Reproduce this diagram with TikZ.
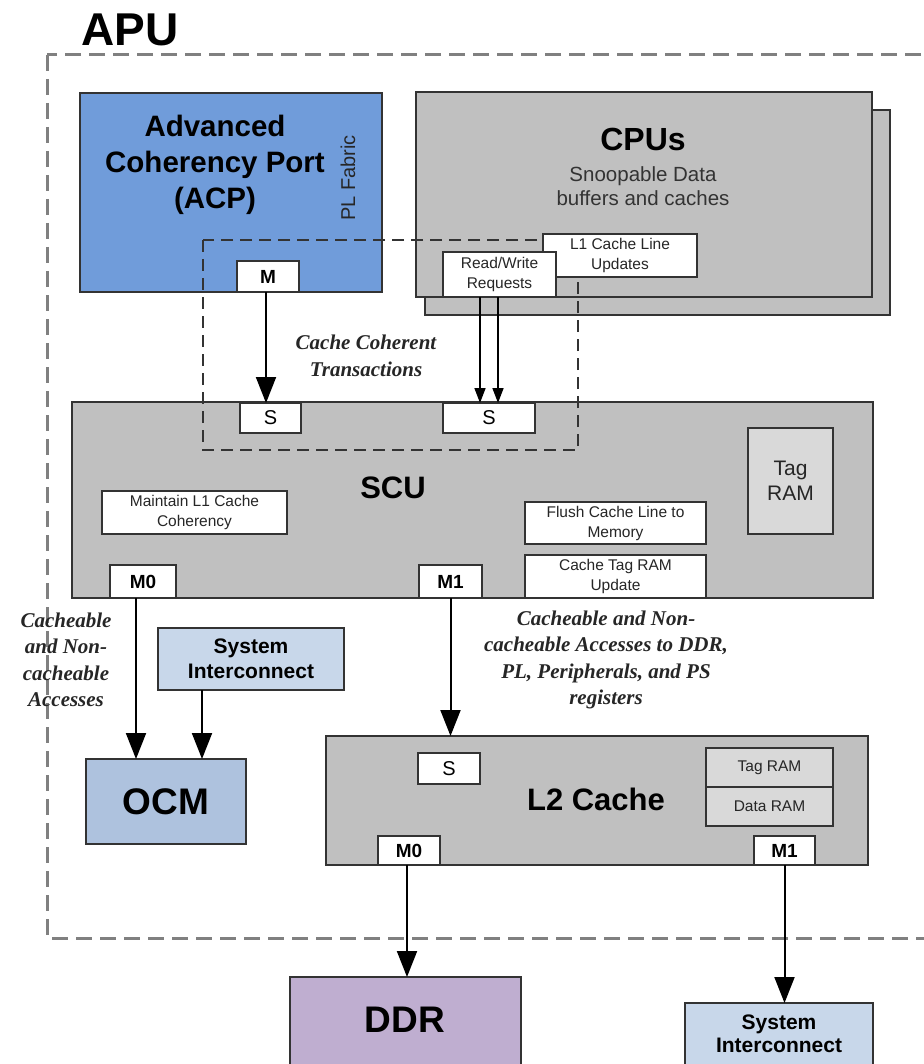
\documentclass[tikz,border=0pt]{standalone}
\usepackage{fontspec}
\setmainfont{Liberation Sans}
\newfontfamily\tnr{Liberation Serif}
\usetikzlibrary{arrows.meta}
\definecolor{acpblue}{HTML}{709CDA}
\definecolor{boxgray}{HTML}{C0C0C0}
\definecolor{ramgray}{HTML}{D9D9D9}
\definecolor{sysblue}{HTML}{C8D7EA}
\definecolor{ocmblue}{HTML}{AEC2DE}
\definecolor{ddrpurple}{HTML}{BFAED0}
\definecolor{bordc}{HTML}{333333}
\definecolor{apudash}{HTML}{808080}
\newcommand\myfs[2]{\fontsize{#1}{#2}\selectfont}
\tikzset{
  box/.style={draw=bordc, line width=1.5pt, inner sep=0pt, outer sep=0pt},
  port/.style={box, fill=white, text=black},
  bigarr/.style={line width=2pt, draw=black, -{Triangle[width=20pt,length=26pt]}},
  smallarr/.style={line width=1.6pt, draw=black, -{Triangle[width=11pt,length=15pt]}},
  lbl/.style={align=center, inner sep=0pt, text=black},
  note/.style={align=center, inner sep=0pt, text=black!85, font=\tnr\bfseries\itshape\myfs{21}{26.5}},
  small/.style={font=\myfs{15.5}{20}, text=black!85},
}
\begin{document}
\begin{tikzpicture}[x=1pt,y=-1pt]
\useasboundingbox (0,0) rectangle (923,1064);
\fill[white] (0,0) rectangle (923,1064);

% APU
\node[lbl, font=\bfseries\myfs{46}{50}] (apu) at (130,30) {APU};
\draw[apudash, line width=3pt, dash pattern=on 16pt off 8pt] (47,55) rectangle (945,938);

% ACP
\node[box, fill=acpblue, minimum width=302pt, minimum height=199pt] (acp) at (231,192.5) {};
\node[lbl, font=\bfseries\myfs{29.5}{36}] (acptxt) at (215,165) {Advanced\\Coherency Port\\(ACP)};
\node[lbl, rotate=90, font=\myfs{20}{24}, text=black!85] (plf) at (348,178) {PL Fabric};
\node[port, minimum width=62pt, minimum height=31pt, font=\bfseries\myfs{19}{22}] (mp) at (268,276.5) {M};

% CPUs
\node[box, fill=boxgray, minimum width=465pt, minimum height=205pt] (cpuback) at (657.5,212.5) {};
\node[box, fill=boxgray, minimum width=456pt, minimum height=205pt] (cpu) at (644,194.5) {};
\node[lbl, font=\bfseries\myfs{32}{36}] (cputxt) at (643,139) {CPUs};
\node[lbl, font=\myfs{20.5}{24}, text=black!80] (snoop) at (643,186) {Snoopable Data\\buffers and caches};

% SCU
\node[box, fill=boxgray, minimum width=801pt, minimum height=196pt] (scu) at (472.5,500) {};
\node[lbl, font=\bfseries\myfs{31}{36}] (scutxt) at (393,488) {SCU};
\node[port, minimum width=61pt, minimum height=30pt, font=\myfs{20}{24}] (s1) at (270.5,418) {S};
\node[port, minimum width=92pt, minimum height=30pt, font=\myfs{20}{24}] (s2) at (489,418) {S};
\node[port, small, align=center, minimum width=185pt, minimum height=43pt] (maint) at (194.5,512.5) {Maintain L1 Cache\\Coherency};
\node[port, minimum width=66pt, minimum height=33pt, font=\bfseries\myfs{19}{22}] (m0) at (143,581.5) {M0};
\node[port, minimum width=63pt, minimum height=33pt, font=\bfseries\myfs{19}{22}] (m1) at (450.5,581.5) {M1};
\node[box, fill=ramgray, align=center, minimum width=85pt, minimum height=106pt, font=\myfs{21}{25}, text=black!85] (tagram) at (790.5,481) {Tag\\RAM};
\node[port, small, align=center, minimum width=181pt, minimum height=42pt] (flush) at (615.5,523) {Flush Cache Line to\\Memory};
\node[port, small, align=center, minimum width=181pt, minimum height=43pt] (ctag) at (615.5,576.5) {Cache Tag RAM\\Update};

% coherent dashed region
\draw[bordc, line width=1.8pt, dash pattern=on 12pt off 7pt] (203,240) rectangle (578,450);

% CPU sub boxes (on top of dashed region)
\node[port, small, align=center, minimum width=154pt, minimum height=43pt] (l1) at (620,255.5) {L1 Cache Line\\Updates};
\node[port, small, align=center, minimum width=113pt, minimum height=45pt] (rw) at (499.5,274.5) {Read/Write\\Requests};

\node[note] (cct) at (366,356) {Cache Coherent\\Transactions};

% lower left
\node[box, fill=sysblue, align=center, minimum width=186pt, minimum height=62pt, font=\bfseries\myfs{21}{25}] (si1) at (251,659) {System\\Interconnect};
\node[box, fill=ocmblue, minimum width=160pt, minimum height=85pt, font=\bfseries\myfs{37}{40}] (ocm) at (166,801.5) {OCM};
\node[note] (cna) at (66,660) {Cacheable\\and Non-\\cacheable\\Accesses};
\node[note] (cnb) at (606,660) {Cacheable and Non-\\cacheable Accesses to DDR,\\PL, Peripherals, and PS\\registers};

% L2
\node[box, fill=boxgray, minimum width=542pt, minimum height=129pt] (l2) at (597,800.5) {};
\node[lbl, font=\bfseries\myfs{31}{36}] (l2txt) at (596,799) {L2 Cache};
\node[port, minimum width=62pt, minimum height=31pt, font=\myfs{20}{24}] (l2s) at (449,768.5) {S};
\node[box, fill=ramgray, minimum width=127pt, minimum height=39pt, small] (l2tag) at (769.5,767.5) {Tag RAM};
\node[box, fill=ramgray, minimum width=127pt, minimum height=39pt, small] (l2data) at (769.5,806.5) {Data RAM};
\node[port, minimum width=62pt, minimum height=29pt, font=\bfseries\myfs{19}{22}] (l2m0) at (409,850.5) {M0};
\node[port, minimum width=61pt, minimum height=29pt, font=\bfseries\myfs{19}{22}] (l2m1) at (784.5,850.5) {M1};

% bottom
\node[box, fill=ddrpurple, minimum width=231pt, minimum height=100pt] (ddr) at (405.5,1027) {};
\node[lbl, font=\bfseries\myfs{37}{40}] (ddrtxt) at (405,1020) {DDR};
\node[box, fill=sysblue, minimum width=188pt, minimum height=80pt] (si2) at (779,1043) {};
\node[lbl, font=\bfseries\myfs{21}{23}] (si2txt) at (779,1034) {System\\Interconnect};

% arrows
\draw[bigarr] ([xshift=-2pt]mp.south) -- ([xshift=-2pt]mp.south |- s1.north);
\draw[smallarr] ([xshift=-19.5pt]rw.south) -- ([xshift=-19.5pt]rw.south |- s2.north);
\draw[smallarr] ([xshift=-1.5pt]rw.south) -- ([xshift=-1.5pt]rw.south |- s2.north);
\draw[bigarr] ([xshift=-7pt]m0.south) -- ([xshift=-7pt]m0.south |- ocm.north);
\draw[bigarr] ([xshift=-49pt]si1.south) -- ([xshift=-49pt]si1.south |- ocm.north);
\draw[bigarr] (m1.south) -- (m1.south |- l2.north);
\draw[bigarr] ([xshift=-2pt]l2m0.south) -- ([xshift=-2pt]l2m0.south |- ddr.north);
\draw[bigarr] (l2m1.south) -- (l2m1.south |- si2.north);
\end{tikzpicture}
\end{document}
